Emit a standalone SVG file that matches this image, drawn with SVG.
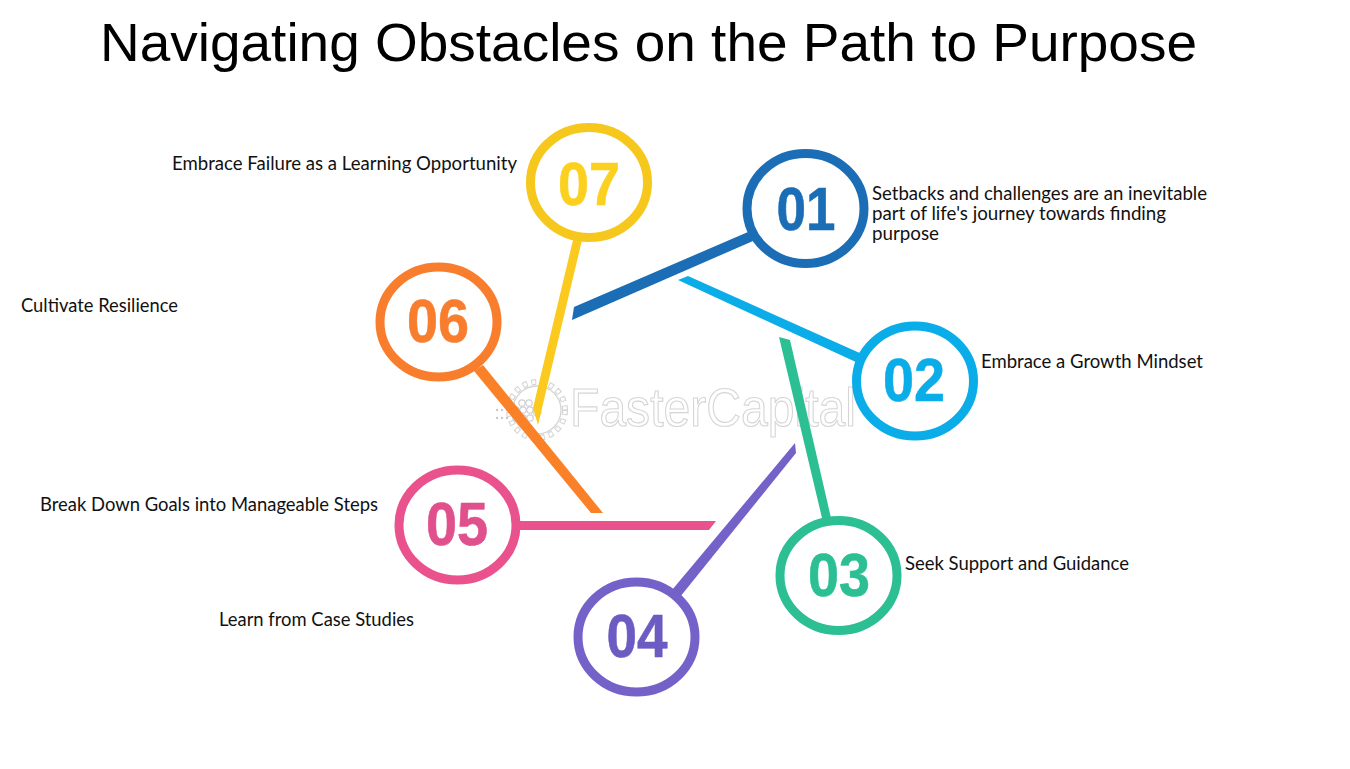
<svg xmlns="http://www.w3.org/2000/svg" width="1350" height="769" viewBox="0 0 1350 769">
<style>
.ring{fill:#fff;stroke-width:9}
.num{font-family:"Liberation Sans",Arial,sans-serif;font-weight:700;font-size:61px;text-anchor:middle;stroke-width:.6}
.lab{font-family:Lato,"Open Sans",sans-serif;font-size:18.5px;fill:#111}
.title{font-family:"Liberation Sans",Arial,sans-serif;font-size:54px;fill:#000}
.wm{font-family:"Liberation Sans",Arial,sans-serif;font-size:53px;fill:#fff;stroke:#d6d6d6;stroke-width:1.2}
.gear{fill:none;stroke:#d6d6d6}
.dot{fill:none;stroke:#cfcfd6;stroke-width:1.2}
</style>
<rect width="1350" height="769" fill="#fff"/>
<text class="title" x="100" y="61" textLength="1097" lengthAdjust="spacingAndGlyphs">Navigating Obstacles on the Path to Purpose</text>
<g id="watermark">
<circle class="gear" cx="537" cy="410" r="28" stroke-width="6" stroke-dasharray="5 4"/>
<circle cx="537" cy="410" r="28" fill="none" stroke="#fff" stroke-width="3.6" stroke-dasharray="3 6" stroke-dashoffset="-1"/>
<circle class="gear" cx="537" cy="410" r="24" stroke-width="1.3"/>
<path fill="none" stroke="#c8c8d0" stroke-width="2.4" stroke-linecap="round" stroke-dasharray="0 5" d="M497 410H512M497 418H512"/>
<circle class="dot" cx="522" cy="403" r="3.2"/><circle class="dot" cx="529" cy="403" r="3.2"/>
<circle class="dot" cx="516" cy="410" r="3.2"/><circle class="dot" cx="523" cy="410" r="3.2"/><circle class="dot" cx="530" cy="410" r="3.2"/><circle class="dot" cx="537" cy="412" r="4"/>
<circle class="dot" cx="516" cy="418" r="3.2"/><circle class="dot" cx="523" cy="418" r="3.2"/><circle class="dot" cx="530" cy="418" r="3.2"/>
<text class="wm" x="570" y="426" textLength="286" lengthAdjust="spacingAndGlyphs">FasterCapital</text>
</g>
<g id="connectors">
<polygon fill="#1b6db5" points="574,307 748,232 753,241 572,320"/>
<polygon fill="#0bade8" points="678,280 688,276 862,354 858,363"/>
<polygon fill="#2bbf93" points="779,337 790,340 831,518 822,518"/>
<polygon fill="#7562c8" points="795,443 796,453 680,597 672,590"/>
<polygon fill="#e9528c" points="518,521 716,521 709,530 518,530"/>
<polygon fill="#fb8128" points="474,371 483,365 603,513 591,513"/>
<polygon fill="#fcc91f" points="573,240 582,240 538,425 533,408"/>
</g>
<g id="node-01"><ellipse class="ring" cx="805.5" cy="208.5" rx="58.5" ry="55" stroke="#1b6db5"/><text class="num" x="806" y="230" fill="#1b6db5" stroke="#1b6db5" textLength="59" lengthAdjust="spacingAndGlyphs">01</text>
<text class="lab" x="872" y="200" textLength="335" lengthAdjust="spacingAndGlyphs">Setbacks and challenges are an inevitable</text>
<text class="lab" x="872" y="220" textLength="294" lengthAdjust="spacingAndGlyphs">part of life's journey towards finding</text>
<text class="lab" x="872" y="240" textLength="67" lengthAdjust="spacingAndGlyphs">purpose</text></g>
<g id="node-02"><ellipse class="ring" cx="915" cy="381" rx="58.5" ry="55" stroke="#0bade8"/><text class="num" x="914" y="401" fill="#0bade8" stroke="#0bade8" textLength="62" lengthAdjust="spacingAndGlyphs">02</text>
<text class="lab" x="981" y="368" textLength="222" lengthAdjust="spacingAndGlyphs">Embrace a Growth Mindset</text></g>
<g id="node-03"><ellipse class="ring" cx="838.5" cy="575.5" rx="58.5" ry="55" stroke="#2bbf93"/><text class="num" x="839" y="596" fill="#2bbf93" stroke="#2bbf93" textLength="62" lengthAdjust="spacingAndGlyphs">03</text>
<text class="lab" x="905" y="570" textLength="224" lengthAdjust="spacingAndGlyphs">Seek Support and Guidance</text></g>
<g id="node-04"><ellipse class="ring" cx="636.5" cy="637" rx="58.5" ry="55" stroke="#7562c8"/><text class="num" x="637" y="656.5" fill="#6b5bc2" stroke="#6b5bc2" textLength="61" lengthAdjust="spacingAndGlyphs">04</text>
<text class="lab" x="219" y="626" textLength="195" lengthAdjust="spacingAndGlyphs">Learn from Case Studies</text></g>
<g id="node-05"><ellipse class="ring" cx="457.5" cy="525" rx="58.5" ry="55" stroke="#e9528c"/><text class="num" x="457" y="545" fill="#e0508c" stroke="#e0508c" textLength="62" lengthAdjust="spacingAndGlyphs">05</text>
<text class="lab" x="40" y="511" textLength="338" lengthAdjust="spacingAndGlyphs">Break Down Goals into Manageable Steps</text></g>
<g id="node-06"><ellipse class="ring" cx="438.5" cy="322" rx="58.5" ry="55" stroke="#f87d2d"/><text class="num" x="438" y="342" fill="#f87d2d" stroke="#f87d2d" textLength="62" lengthAdjust="spacingAndGlyphs">06</text>
<text class="lab" x="21" y="312" textLength="157" lengthAdjust="spacingAndGlyphs">Cultivate Resilience</text></g>
<g id="node-07"><ellipse class="ring" cx="589" cy="182.5" rx="58.5" ry="55" stroke="#f6c81e"/><text class="num" x="589" y="205" fill="#fbd01f" stroke="#fbd01f" textLength="62" lengthAdjust="spacingAndGlyphs">07</text>
<text class="lab" x="172" y="170" textLength="345" lengthAdjust="spacingAndGlyphs">Embrace Failure as a Learning Opportunity</text></g>
</svg>
